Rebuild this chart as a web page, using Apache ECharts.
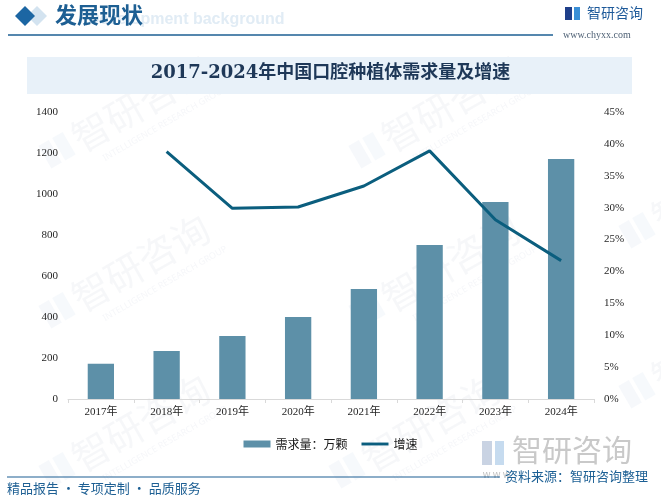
<!DOCTYPE html>
<html>
<head>
<meta charset="utf-8">
<script src="https://cdn.jsdelivr.net/npm/echarts@6/dist/echarts.min.js"></script>
<style>html,body{margin:0;padding:0;background:#fff;}#chart{width:661px;height:502px;}</style>
</head>
<body>
<div id="chart"></div>
<script>
var categories = ['2017年','2018年','2019年','2020年','2021年','2022年','2023年','2024年'];
var demand = [172, 234, 307, 400, 537, 751, 961, 1171];
var growth = [null, 38.8, 29.9, 30.1, 33.4, 38.9, 28.1, 21.7];
var seriesNames = ['需求量：万颗', '增速'];
var titleText = '2017-2024年中国口腔种植体需求量及增速';

var chart = echarts.init(document.getElementById('chart'), null, {renderer:'canvas'});

function watermark(x, y) {
  return {
    type: 'group', x: x, y: y, rotation: Math.PI / 6, z: -10, silent: true,
    children: [
      {type:'rect', shape:{x:-70,y:-22,width:12,height:26}, style:{fill:'rgba(190,205,225,0.14)'}},
      {type:'rect', shape:{x:-54,y:-22,width:12,height:26}, style:{fill:'rgba(190,215,235,0.14)'}},
      {type:'text', x:-36, y:-8, style:{text:'智研咨询', font:'38px "Noto Sans CJK SC"', fill:'rgba(190,200,215,0.14)', textVerticalAlign:'middle'}},
      {type:'text', x:-20, y:22, style:{text:'INTELLIGENCE RESEARCH GROUP', font:'9px "Noto Sans"', fill:'rgba(190,200,215,0.16)', textVerticalAlign:'middle'}}
    ]
  };
}

var option = {
  backgroundColor: '#ffffff',
  animation: false,
  grid: {left: 68, right: 67, top: 112, bottom: 103},
  legend: {
    top: 433, left: 'center',
    itemWidth: 27, itemHeight: 7, itemGap: 14,
    textStyle: {fontSize: 12, color: '#1a1a1a', fontFamily: '"Noto Sans CJK SC"'},
    data: [
      {name: seriesNames[0], icon: 'rect'},
      {name: seriesNames[1], icon: 'path://M0,0L28,0L28,3L0,3Z'}
    ]
  },
  xAxis: {
    type: 'category', data: categories,
    axisLine: {lineStyle: {color: '#d9d9d9'}},
    axisTick: {show: true, length: 4, lineStyle: {color: '#d9d9d9'}},
    axisLabel: {color: '#262626', fontSize: 11, fontFamily: '"Liberation Serif","Noto Sans CJK SC"', margin: 8}
  },
  yAxis: [
    {
      type: 'value', min: 0, max: 1400, interval: 200,
      splitLine: {show: false}, axisLine: {show: false}, axisTick: {show: false},
      axisLabel: {color: '#262626', fontSize: 11, fontFamily: '"Liberation Serif"', margin: 10,
        formatter: function (v) { return String(v); }}
    },
    {
      type: 'value', min: 0, max: 45, interval: 5,
      splitLine: {show: false}, axisLine: {show: false}, axisTick: {show: false},
      axisLabel: {color: '#262626', fontSize: 11, fontFamily: '"Liberation Serif"', margin: 10, formatter: '{value}%'}
    }
  ],
  series: [
    {
      name: seriesNames[0], type: 'bar', data: demand, yAxisIndex: 0,
      barWidth: '40%', itemStyle: {color: '#5d90a8'}
    },
    {
      name: seriesNames[1], type: 'line', data: growth, yAxisIndex: 1,
      symbol: 'none', lineStyle: {color: '#0b5e7e', width: 3}, itemStyle: {color: '#0b5e7e'}
    }
  ],
  graphic: [
    watermark(110, 130), watermark(420, 130),
    watermark(110, 290), watermark(420, 290),
    watermark(110, 450), watermark(400, 450),
    watermark(690, 210), watermark(690, 370),
    // header
    {type:'polygon', z:5, shape:{points:[[37,6],[47,16],[37,26],[27,16]]}, style:{fill:'#d3e3f0'}},
    {type:'polygon', z:6, shape:{points:[[25,6],[35,16],[25,26],[15,16]]}, style:{fill:'#1c66a3'}},
    {type:'text', z:5, left: 88, top: 12, style:{text:'Development background', font:'bold 16px "Liberation Sans"', fill:'#e1ecf5'}},
    {type:'text', z:6, left: 55, top: 4, style:{text:'发展现状', font:'bold 22px "Noto Sans CJK SC"', fill:'#1d5f93'}},
    {type:'line', z:5, shape:{x1:8,y1:35,x2:553,y2:35}, style:{stroke:'#1d5f93', lineWidth:1.5}},
    // logo
    {type:'rect', z:5, shape:{x:565,y:7,width:7,height:13}, style:{fill:'#1f3f8a'}},
    {type:'rect', z:5, shape:{x:574,y:7,width:6,height:13}, style:{fill:'#3a8fd6'}},
    {type:'text', z:5, left: 587, top: 6, style:{text:'智研咨询', font:'14px "Noto Sans CJK SC"', fill:'#1e5a9a'}},
    {type:'text', z:5, left: 563, top: 30, style:{text:'www.chyxx.com', font:'10px "Liberation Serif"', fill:'#4f6175'}},
    // title box
    {type:'rect', z:1, shape:{x:27,y:57,width:605,height:37}, style:{fill:'#e8f1f9'}},
    {type:'text', z:5, left:'center', top: 64, style:{text:titleText, font:'bold 18px "DejaVu Serif","Noto Sans CJK SC"', fill:'#1e3858'}},
    // bottom right watermark
    {type:'rect', z:1, shape:{x:482,y:441,width:10,height:24}, style:{fill:'#c9d3e3'}},
    {type:'rect', z:1, shape:{x:495,y:441,width:9,height:24}, style:{fill:'#c6dbef'}},
    {type:'text', z:1, left: 512, top: 435, style:{text:'智研咨询', font:'30px "Noto Sans CJK SC"', fill:'#c9c9c9'}},
    {type:'text', z:1, left: 483, top: 470, style:{text:'w w w', font:'10px "Liberation Sans"', fill:'#c0c0c0'}},
    // footer
    {type:'line', z:5, shape:{x1:7,y1:477,x2:500,y2:477}, style:{stroke:'#1d5f93', lineWidth:1.2}},
    {type:'text', z:6, left: 505, top: 470, style:{text:'资料来源：智研咨询整理', font:'13px "Noto Sans CJK SC"', fill:'#1b5f94'}},
    {type:'text', z:6, left: 7, top: 482, style:{text:'精品报告 · 专项定制 · 品质服务', font:'13px "Noto Sans CJK SC"', fill:'#1d5f93'}}
  ]
};
chart.setOption(option);
</script>
</body>
</html>
